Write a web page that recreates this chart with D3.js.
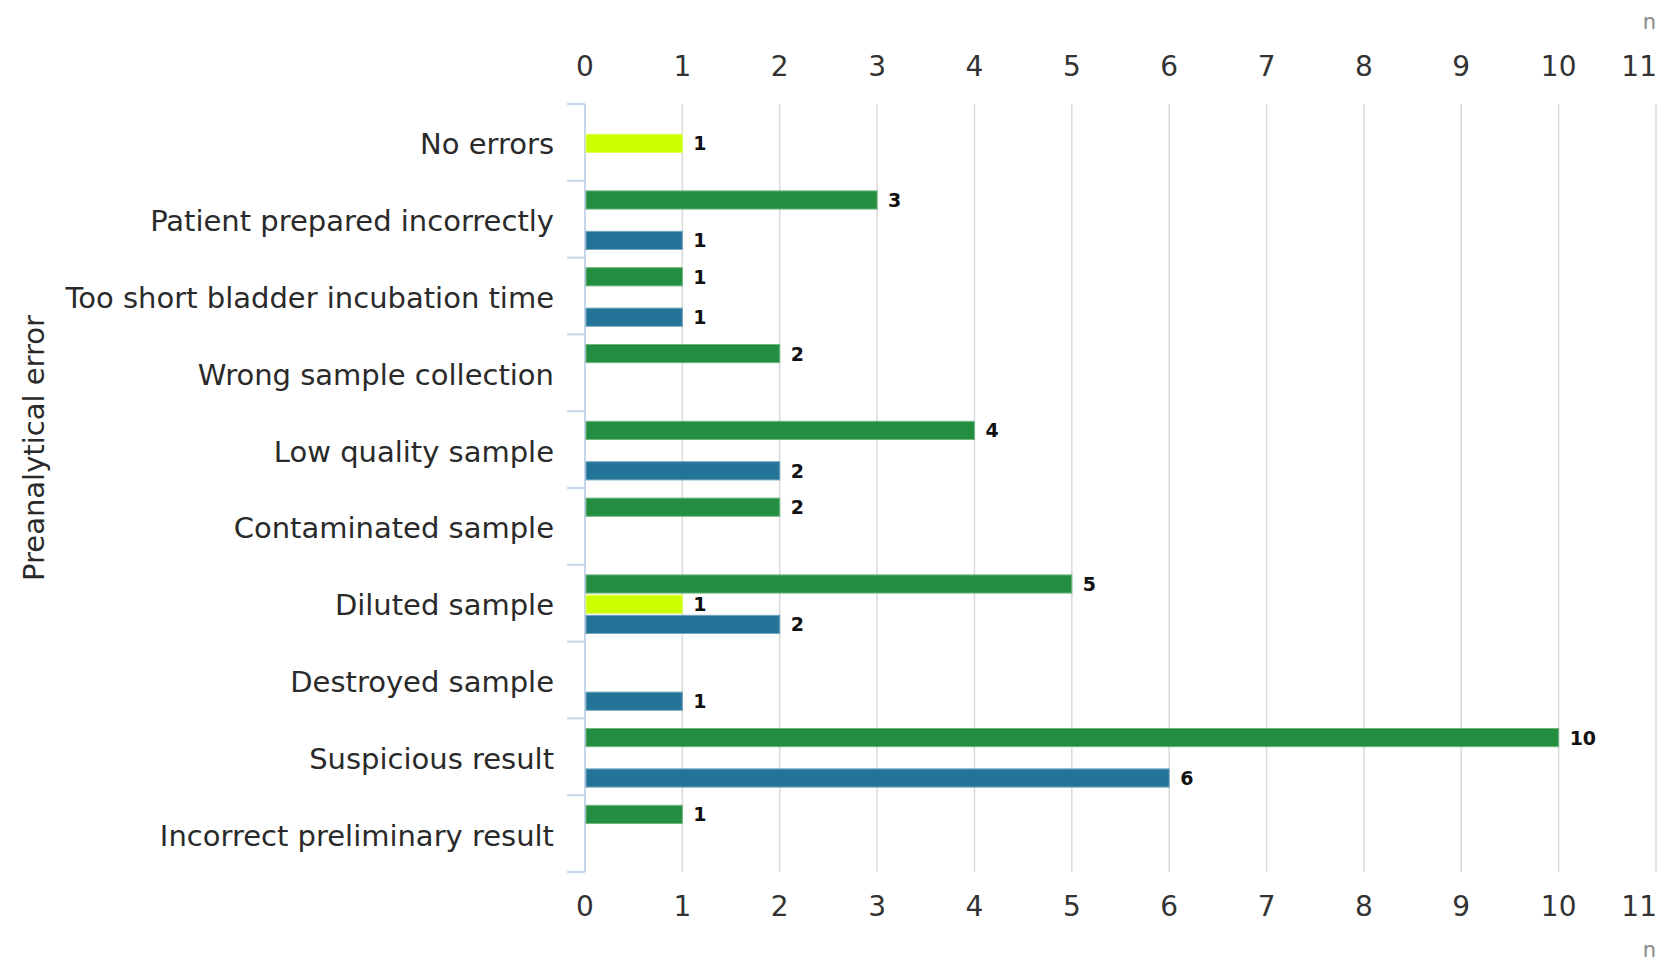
<!DOCTYPE html>
<html>
<head>
<meta charset="utf-8">
<script src="https://cdn.jsdelivr.net/npm/d3@7"></script>
<style>
  body { margin: 0; background: #fff; }
  svg { display: block; font-family: "DejaVu Sans", sans-serif; }
</style>
</head>
<body>
<div id="chart"></div>
<script>
// Data
const categories = [
  "No errors",
  "Patient prepared incorrectly",
  "Too short bladder incubation time",
  "Wrong sample collection",
  "Low quality sample",
  "Contaminated sample",
  "Diluted sample",
  "Destroyed sample",
  "Suspicious result",
  "Incorrect preliminary result"
];
const seriesNames = ["Group A", "Group B", "Group C"];
const seriesColors = ["#238e40", "#ccff00", "#247399"];
const groupA = [0, 3, 1, 2, 4, 2, 5, 0, 10, 1];
const groupB = [1, 0, 0, 0, 0, 0, 1, 0, 0, 0];
const groupC = [0, 1, 1, 0, 2, 0, 2, 1, 6, 0];
const xTicks = [0, 1, 2, 3, 4, 5, 6, 7, 8, 9, 10, 11];
const yTitle = "Preanalytical error";
const unitLabel = "n";

const width = 1668;
const height = 965;

const svg = d3.select("#chart").append("svg")
  .attr("width", width)
  .attr("height", height);

// Scales
const x = d3.scaleLinear().domain([0, 11]).range([585, 1656]);
const y = d3.scaleBand().domain(categories).range([104, 872]).padding(0);
const ySeries = d3.scaleBand().domain(seriesNames)
  .range([1, y.bandwidth() + 1])
  .paddingInner(0.1)
  .paddingOuter(0.45);

const values = [groupA, groupB, groupC];
const rows = [];
categories.forEach(function (c, i) {
  seriesNames.forEach(function (s, j) {
    rows.push({ category: c, series: s, value: values[j][i], color: seriesColors[j] });
  });
});
const bars = rows.filter(function (d) { return d.value > 0; });

// Grid lines
svg.append("g")
  .selectAll("line")
  .data(xTicks.filter(function (d) { return d > 0; }))
  .enter()
  .append("line")
  .attr("x1", function (d) { return x(d); })
  .attr("x2", function (d) { return x(d); })
  .attr("y1", y.range()[0])
  .attr("y2", y.range()[1])
  .attr("stroke", "#d9d9d9")
  .attr("stroke-width", 1.5);

// Top and bottom axes
function drawTickLabels(yPos) {
  svg.append("g")
    .selectAll("text")
    .data(xTicks)
    .enter()
    .append("text")
    .attr("x", function (d) { return d === 11 ? x(d) + 1 : x(d); })
    .attr("y", yPos)
    .attr("text-anchor", function (d) { return d === 11 ? "end" : "middle"; })
    .attr("dominant-baseline", "central")
    .style("font-size", "28px")
    .style("fill", "#333")
    .text(function (d) { return d; });
}
drawTickLabels(66);
drawTickLabels(906);

// Unit labels
svg.append("text")
  .attr("x", 1656).attr("y", 22)
  .attr("text-anchor", "end")
  .attr("dominant-baseline", "central")
  .style("font-size", "21px")
  .style("fill", "#888")
  .text(unitLabel);
svg.append("text")
  .attr("x", 1656).attr("y", 950)
  .attr("text-anchor", "end")
  .attr("dominant-baseline", "central")
  .style("font-size", "21px")
  .style("fill", "#888")
  .text(unitLabel);

// Left axis with ticks at band boundaries
const yAxis = svg.append("g");
yAxis.append("line")
  .attr("x1", x(0)).attr("x2", x(0))
  .attr("y1", y.range()[0]).attr("y2", y.range()[1])
  .attr("stroke", "#c6d6ea")
  .attr("stroke-width", 2);
const boundaries = categories.map(function (c) { return y(c); }).concat([y.range()[1]]);
yAxis.selectAll(".tick")
  .data(boundaries)
  .enter()
  .append("line")
  .attr("class", "tick")
  .attr("x1", x(0) - 18).attr("x2", x(0))
  .attr("y1", function (d) { return d; })
  .attr("y2", function (d) { return d; })
  .attr("stroke", "#c6d6ea")
  .attr("stroke-width", 2);

// Category labels
svg.append("g")
  .selectAll("text")
  .data(categories)
  .enter()
  .append("text")
  .attr("x", 554)
  .attr("y", function (d) { return y(d) + y.bandwidth() / 2 + 2; })
  .attr("text-anchor", "end")
  .attr("dominant-baseline", "central")
  .style("font-size", "29px")
  .style("fill", "#2a2a2a")
  .text(function (d) { return d; });

// Y title
svg.append("text")
  .attr("transform", "translate(34,448) rotate(-90)")
  .attr("text-anchor", "middle")
  .attr("dominant-baseline", "central")
  .style("font-size", "29px")
  .style("fill", "#2a2a2a")
  .text(yTitle);

// Bars
svg.append("g")
  .selectAll("rect")
  .data(bars)
  .enter()
  .append("rect")
  .attr("x", x(0) + 1)
  .attr("y", function (d) { return y(d.category) + ySeries(d.series); })
  .attr("width", function (d) { return x(d.value) - x(0) - 1; })
  .attr("height", ySeries.bandwidth())
  .attr("fill", function (d) { return d.color; })
  .attr("stroke", function (d) { return d3.interpolateRgb(d.color, "#ffffff")(0.35); })
  .attr("stroke-width", 1);

// Value labels
svg.append("g")
  .selectAll("text")
  .data(bars)
  .enter()
  .append("text")
  .attr("x", function (d) { return x(d.value) + 11; })
  .attr("y", function (d) { return y(d.category) + ySeries(d.series) + ySeries.bandwidth() / 2; })
  .attr("dominant-baseline", "central")
  .style("font-size", "19px")
  .style("font-weight", "bold")
  .style("fill", "#111")
  .text(function (d) { return d.value; });
</script>
</body>
</html>
